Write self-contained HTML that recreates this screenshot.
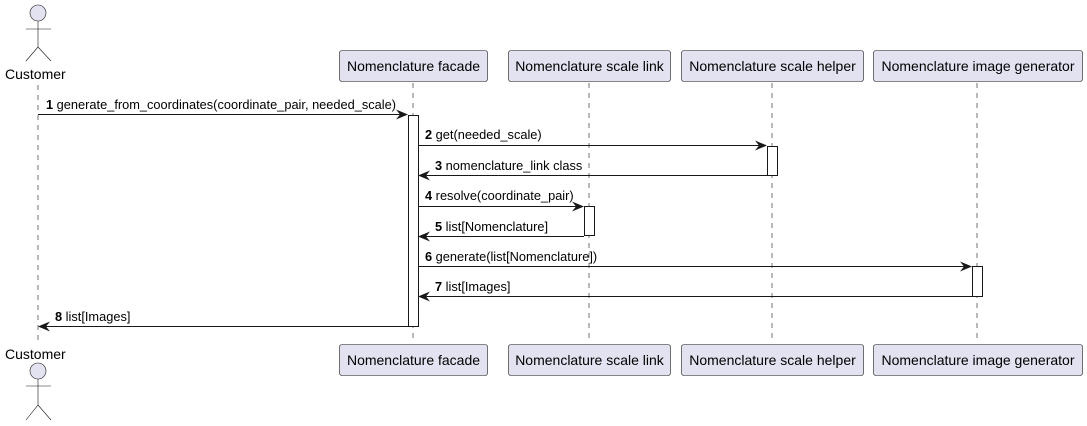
<!DOCTYPE html>
<html><head><style>body{margin:0;background:#fff}svg{display:block}text{font-family:"Liberation Sans",sans-serif;fill:#000}</style></head><body>
<svg width="1087" height="426" viewBox="0 0 1087 426" xmlns="http://www.w3.org/2000/svg">
<defs><marker id="a" viewBox="0 0 12 10" refX="11" refY="5" markerWidth="12" markerHeight="10" markerUnits="userSpaceOnUse" orient="auto"><path d="M0,0 L12,5 L0,10 L4,5 Z" fill="#181818"/></marker></defs>
<g stroke="#181818" stroke-width="0.6" stroke-dasharray="5,5">
<line x1="38" y1="85" x2="38" y2="343"/><line x1="413" y1="83" x2="413" y2="343"/><line x1="589" y1="83" x2="589" y2="343"/><line x1="772" y1="83" x2="772" y2="343"/><line x1="977" y1="83" x2="977" y2="343"/>
</g>
<g fill="#E2E2F0" stroke="#181818" stroke-width="0.6">
<circle cx="38" cy="13" r="8"/><circle cx="38" cy="371" r="8"/>
</g>
<g stroke="#181818" stroke-width="0.6" fill="none">
<path d="M38,21 V47 M26,29 H51 M26,61 L38,47 L51,61"/>
<path d="M38,379 V405 M26,386 H51 M26,420 L38,405 L51,420"/>
</g>
<text x="5" y="79" font-size="14">Customer</text><text x="5" y="359" font-size="14">Customer</text>
<g fill="#E2E2F0" stroke="#181818" stroke-width="0.6">
<rect x="339.5" y="50.5" width="148" height="31" rx="2.5"/><rect x="508.5" y="50.5" width="162" height="31" rx="2.5"/><rect x="681.5" y="50.5" width="182" height="31" rx="2.5"/><rect x="873.5" y="50.5" width="209" height="31" rx="2.5"/>
<rect x="339.5" y="344.5" width="148" height="31" rx="2.5"/><rect x="508.5" y="344.5" width="162" height="31" rx="2.5"/><rect x="681.5" y="344.5" width="182" height="31" rx="2.5"/><rect x="873.5" y="344.5" width="209" height="31" rx="2.5"/>
</g>
<g font-size="14" text-anchor="middle">
<text x="413.5" y="71">Nomenclature facade</text><text x="589.5" y="71">Nomenclature scale link</text><text x="772.5" y="71">Nomenclature scale helper</text><text x="978" y="71">Nomenclature image generator</text>
<text x="413.5" y="365">Nomenclature facade</text><text x="589.5" y="365">Nomenclature scale link</text><text x="772.5" y="365">Nomenclature scale helper</text><text x="978" y="365">Nomenclature image generator</text>
</g>
<g fill="#fff" stroke="#181818" stroke-width="1">
<rect x="408.5" y="115.5" width="10" height="211"/><rect x="767.5" y="146.5" width="10" height="29"/><rect x="584.5" y="206.5" width="10" height="29"/><rect x="972.5" y="266.5" width="10" height="30"/>
</g>
<g stroke="#181818" stroke-width="1" marker-end="url(#a)">
<line x1="38" y1="114.5" x2="407" y2="114.5"/>
<line x1="418" y1="145.5" x2="766" y2="145.5"/>
<line x1="767" y1="175.5" x2="419" y2="175.5"/>
<line x1="418" y1="206.5" x2="583" y2="206.5"/>
<line x1="584" y1="236.5" x2="419" y2="236.5"/>
<line x1="418" y1="266.5" x2="971" y2="266.5"/>
<line x1="972" y1="296.5" x2="419" y2="296.5"/>
<line x1="408" y1="326.5" x2="39" y2="326.5"/>
</g>
<g font-size="12.8">
<text x="46" y="109"><tspan font-weight="bold">1</tspan> generate_from_coordinates(coordinate_pair, needed_scale)</text>
<text x="425" y="139"><tspan font-weight="bold">2</tspan> get(needed_scale)</text>
<text x="435" y="170"><tspan font-weight="bold">3</tspan> nomenclature_link class</text>
<text x="425" y="200"><tspan font-weight="bold">4</tspan> resolve(coordinate_pair)</text>
<text x="435" y="231"><tspan font-weight="bold">5</tspan> list[Nomenclature]</text>
<text x="425" y="261"><tspan font-weight="bold">6</tspan> generate(list[Nomenclature])</text>
<text x="435" y="291"><tspan font-weight="bold">7</tspan> list[Images]</text>
<text x="55" y="321"><tspan font-weight="bold">8</tspan> list[Images]</text>
</g>
</svg>
</body></html>
